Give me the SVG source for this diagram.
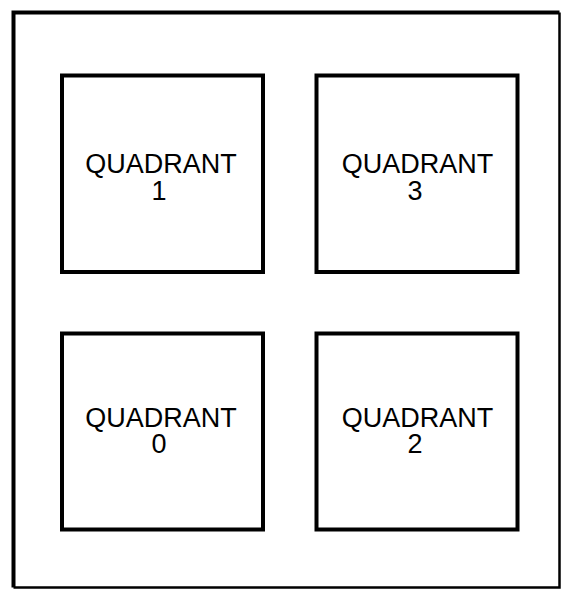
<svg xmlns="http://www.w3.org/2000/svg" width="564" height="589" viewBox="0 0 564 589">
<style>
.frame{fill:none;stroke:#000;stroke-width:4}
.box{fill:#fff;stroke:#000;stroke-width:4}
.lbl{font-family:"Liberation Sans",Arial,sans-serif;font-size:27px;fill:#000;text-anchor:middle}
</style>
<rect width="564" height="589" fill="#fff"/>
<path class="frame" d="M13.5,587.5 V12.5 H559.5"/>
<path fill="none" stroke="#000" stroke-width="2.5" d="M559.5,12.5 V587.5 H13.5"/>
<g id="q1">
<rect class="box" x="62" y="75.5" width="201" height="196.5"/>
<text class="lbl" x="161" y="173">QUADRANT</text>
<text class="lbl" x="159" y="200">1</text>
</g>
<g id="q3">
<rect class="box" x="316.5" y="75.5" width="201" height="196.5"/>
<text class="lbl" x="417.5" y="173">QUADRANT</text>
<text class="lbl" x="415" y="200">3</text>
</g>
<g id="q0">
<rect class="box" x="62" y="333.5" width="201" height="196"/>
<text class="lbl" x="161" y="427">QUADRANT</text>
<text class="lbl" x="159" y="453">0</text>
</g>
<g id="q2">
<rect class="box" x="316.5" y="333.5" width="201" height="196"/>
<text class="lbl" x="417.5" y="427">QUADRANT</text>
<text class="lbl" x="415" y="453">2</text>
</g>
<g id="connectors"></g>
</svg>
